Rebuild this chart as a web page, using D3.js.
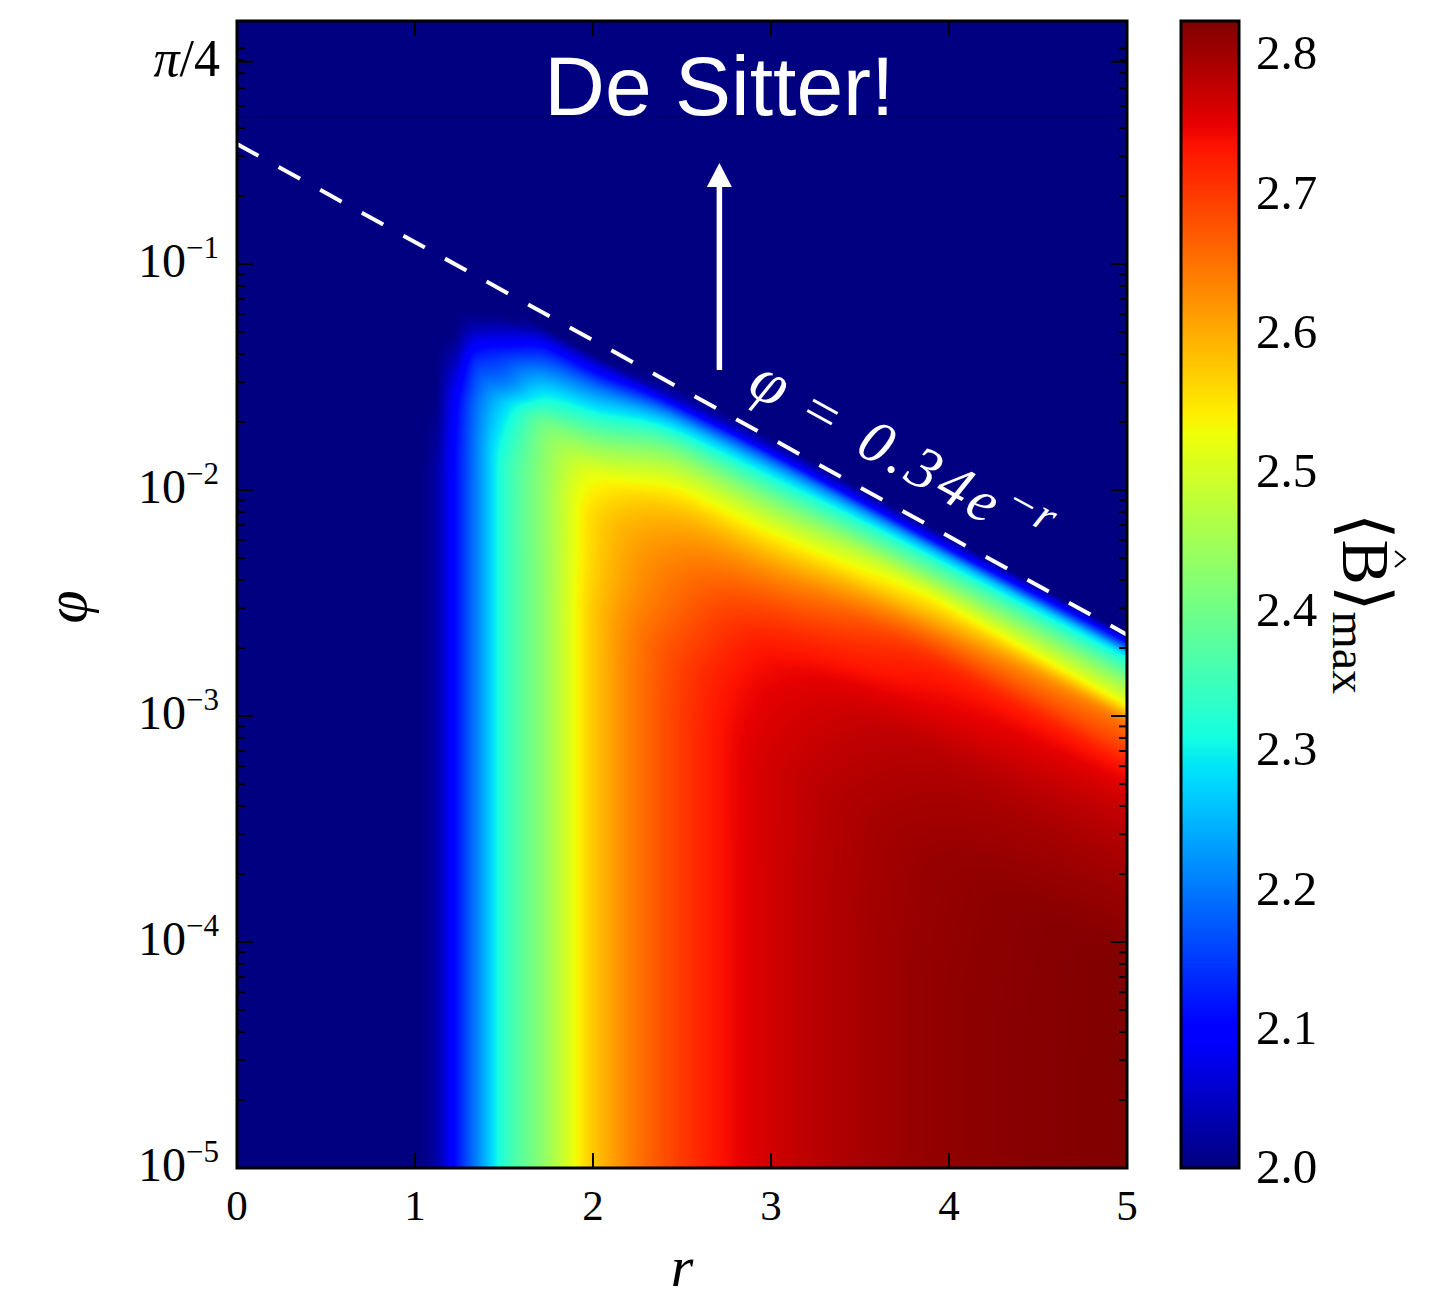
<!DOCTYPE html>
<html>
<head>
<meta charset="utf-8">
<script src="https://cdn.jsdelivr.net/npm/d3@7"></script>
<style>
  body { margin: 0; background: #fff; }
</style>
</head>
<body>
<script>

// r grid (columns) and depth below the line phi = 0.34 e^-r, in decades (rows)
var rKnots = [0, 1.0, 1.1, 1.2, 1.35, 1.5, 1.75, 2.0, 2.5, 3.0, 4.0, 5.0];
var depthKnots = [0, 0.05, 0.1, 0.15, 0.2, 0.3, 0.4, 0.5, 0.6, 0.8, 1.0, 1.25, 1.5, 2.0];

// <B>max, one row per depth
var bValues = [
  [2.0, 2.0, 2.0, 2.0,   2.0,  2.0,  2.0,   2.0,   2.0,   2.0,   2.0,   2.0],
  [2.0, 2.0, 2.0, 2.0,   2.0,  2.0,  2.0,   2.0,   2.04,  2.07,  2.1,   2.16],
  [2.0, 2.0, 2.0, 2.0,   2.0,  2.0,  2.05,  2.06,  2.14,  2.19,  2.25,  2.3],
  [2.0, 2.0, 2.0, 2.0,   2.0,  2.03, 2.11,  2.125, 2.24,  2.28,  2.34,  2.36],
  [2.0, 2.0, 2.0, 2.0,   2.02, 2.07, 2.16,  2.19,  2.31,  2.34,  2.40,  2.42],
  [2.0, 2.0, 2.0, 2.0,   2.09, 2.15, 2.25,  2.29,  2.42,  2.44,  2.52,  2.52],
  [2.0, 2.0, 2.0, 2.02,  2.15, 2.2,  2.33,  2.38,  2.50,  2.52,  2.60,  2.65],
  [2.0, 2.0, 2.0, 2.05,  2.18, 2.27, 2.41,  2.46,  2.56,  2.58,  2.67,  2.69],
  [2.0, 2.0, 2.0, 2.07,  2.2,  2.3,  2.435, 2.52,  2.6,   2.63,  2.72,  2.735],
  [2.0, 2.0, 2.01, 2.085, 2.21, 2.33, 2.445, 2.56,  2.645, 2.70,  2.755, 2.776],
  [2.0, 2.0, 2.02, 2.09,  2.21, 2.33, 2.445, 2.565, 2.67,  2.74,  2.785, 2.795],
  [2.0, 2.0, 2.02, 2.09,  2.21, 2.33, 2.445, 2.575, 2.695, 2.758, 2.80,  2.812],
  [2.0, 2.0, 2.02, 2.09,  2.21, 2.33, 2.445, 2.575, 2.70,  2.766, 2.809, 2.824],
  [2.0, 2.0, 2.02, 2.09,  2.21, 2.33, 2.445, 2.575, 2.70,  2.766, 2.812, 2.824]
];

var xTicks = [0, 1, 2, 3, 4, 5];
var yTicks = [1e-5, 1e-4, 1e-3, 1e-2, 1e-1];
var yTickExps = ["−5", "−4", "−3", "−2", "−1"];
var piTick = Math.PI / 4;
var cbTicks = [2.0, 2.1, 2.2, 2.3, 2.4, 2.5, 2.6, 2.7, 2.8];
var colorDomain = [2.0, 2.824];

var lineCoef = 0.34;          // phi = 0.34 e^{-r}
var lineR = [0, 5];
var gridTop = 0.45;           // faint seam of the data grid
var arrowR = 2.71, arrowFrom = 0.034, arrowTo = 0.28;
var labelR = 2.78;

// matplotlib jet, per channel
var jetRed   = [[0, 0], [0.35, 0], [0.66, 1], [0.89, 1], [1, 0.5]];
var jetGreen = [[0, 0], [0.125, 0], [0.375, 1], [0.64, 1], [0.91, 0], [1, 0]];
var jetBlue  = [[0, 0.5], [0.11, 1], [0.34, 1], [0.65, 0], [1, 0]];

var width = 1444, height = 1299;
var serif = "'Liberation Serif', 'Times New Roman', 'DejaVu Serif', serif";

var x = d3.scaleLinear().domain([0, 5]).range([237, 1127]);
var y = d3.scaleLog().domain([1e-5, 1.19]).range([1168, 21]);
var cb = d3.scaleLinear().domain(colorDomain).range([1168, 21]);

function channel(pts) {
  return d3.scaleLinear().domain(pts.map(function(p) { return p[0]; }))
    .range(pts.map(function(p) { return p[1]; })).clamp(true);
}
var cr = channel(jetRed), cg = channel(jetGreen), cbl = channel(jetBlue);
var lut = d3.range(1024).map(function(k) {
  var t = k / 1023;
  return [Math.round(cr(t) * 255), Math.round(cg(t) * 255), Math.round(cbl(t) * 255)];
});
function colorOf(v) {
  var t = (v - colorDomain[0]) / (colorDomain[1] - colorDomain[0]);
  t = Math.max(0, Math.min(1, t));
  return lut[Math.round(t * 1023)];
}

// monotone cubic (Fritsch-Butland slopes) so the contours come out smooth
function slopes(xs, ys) {
  var n = xs.length, m = new Array(n), h = [], dl = [];
  for (var k = 0; k < n - 1; k++) { h[k] = xs[k + 1] - xs[k]; dl[k] = (ys[k + 1] - ys[k]) / h[k]; }
  m[0] = dl[0]; m[n - 1] = dl[n - 2];
  for (k = 1; k < n - 1; k++) {
    if (dl[k - 1] * dl[k] <= 0) { m[k] = 0; continue; }
    var w1 = 2 * h[k] + h[k - 1], w2 = h[k] + 2 * h[k - 1];
    m[k] = (w1 + w2) / (w1 / dl[k - 1] + w2 / dl[k]);
  }
  return m;
}
function hermite(xs, ys, m, v) {
  var n = xs.length;
  if (v <= xs[0]) return ys[0];
  if (v >= xs[n - 1]) return ys[n - 1];
  var k = Math.min(d3.bisectRight(xs, v) - 1, n - 2);
  var h = xs[k + 1] - xs[k], t = (v - xs[k]) / h;
  var t2 = t * t, t3 = t2 * t;
  return (2 * t3 - 3 * t2 + 1) * ys[k] + (t3 - 2 * t2 + t) * h * m[k] +
         (-2 * t3 + 3 * t2) * ys[k + 1] + (t3 - t2) * h * m[k + 1];
}

function boundaryLog(r) { return Math.log10(lineCoef) - r * Math.LOG10E; }
function boundary(r) { return lineCoef * Math.exp(-r); }

var svg = d3.select("body").append("svg")
    .attr("width", width)
    .attr("height", height)
    .style("font-family", serif);

// heatmap raster
var x0 = x(0), y0 = y(1.19);
var W = Math.round(x(5) - x0), H = Math.round(y(1e-5) - y0);
var canvas = document.createElement("canvas");
canvas.width = W; canvas.height = H;
var ctx = canvas.getContext("2d");
var img = ctx.createImageData(W, H);

var rowSlopes = bValues.map(function(row) { return slopes(rKnots, row); });
var cols = d3.range(W).map(function(i) {
  var r = x.invert(x0 + i + 0.5);
  var vals = bValues.map(function(row, k) { return hermite(rKnots, row, rowSlopes[k], r); });
  return {vals: vals, m: slopes(depthKnots, vals), bl: boundaryLog(r)};
});

for (var j = 0; j < H; j++) {
  var lp = Math.log10(y.invert(y0 + j + 0.5));
  for (var i = 0; i < W; i++) {
    var c = cols[i];
    var d = c.bl - lp;
    var v = d < 0 ? colorDomain[0] : hermite(depthKnots, c.vals, c.m, d);
    var col = colorOf(v);
    var k = (j * W + i) * 4;
    img.data[k] = col[0]; img.data[k + 1] = col[1]; img.data[k + 2] = col[2]; img.data[k + 3] = 255;
  }
}
ctx.putImageData(img, 0, 0);

svg.append("image")
    .attr("x", x0).attr("y", y0)
    .attr("width", W).attr("height", H)
    .attr("preserveAspectRatio", "none")
    .attr("href", canvas.toDataURL());

// faint seam at top of data grid
svg.append("line")
    .attr("x1", x(0)).attr("x2", x(5))
    .attr("y1", y(gridTop)).attr("y2", y(gridTop))
    .attr("stroke", "#00006c")
    .attr("stroke-width", 1.5);

// dashed boundary line
var boundaryLine = d3.line()
    .x(function(r) { return x(r); })
    .y(function(r) { return y(boundary(r)); });

svg.append("path")
    .attr("d", boundaryLine(lineR))
    .attr("fill", "none")
    .attr("stroke", "#fff")
    .attr("stroke-width", 4)
    .attr("stroke-dasharray", "24.5,23");

// line label, rotated along the line
var angle = Math.atan2(y(boundary(5)) - y(boundary(0)), x(5) - x(0)) * 180 / Math.PI;
var lab = svg.append("g")
    .attr("transform", "translate(" + x(labelR) + "," + y(boundary(labelR)) + ") rotate(" + angle + ")")
    .append("text")
    .attr("fill", "#fff")
    .style("font-family", serif)
    .style("font-size", "60px")
    .style("font-style", "italic");
lab.append("tspan").attr("x", 0).attr("y", -28).style("font-size", "64px").text("φ");
lab.append("tspan").attr("x", 60).attr("y", -28).style("font-style", "normal").text("=");
lab.append("tspan").attr("x", 124).attr("y", -28).attr("letter-spacing", "5px").text("0.34");
lab.append("tspan").attr("x", 248).attr("y", -28).text("e");
lab.append("tspan").attr("x", 284).attr("y", -50).style("font-size", "46px").style("font-style", "normal").text("−");
lab.append("tspan").attr("x", 314).attr("y", -50).style("font-size", "46px").text("r");

// arrow towards de Sitter
var ax = x(arrowR), ay1 = y(arrowFrom), ay2 = y(arrowTo);
svg.append("line")
    .attr("x1", ax).attr("x2", ax)
    .attr("y1", ay1).attr("y2", ay2 + 22)
    .attr("stroke", "#fff")
    .attr("stroke-width", 5.5);
svg.append("path")
    .attr("d", "M" + ax + "," + ay2 + "L" + (ax + 12.5) + "," + (ay2 + 24) + "L" + (ax - 12.5) + "," + (ay2 + 24) + "Z")
    .attr("fill", "#fff");

svg.append("text")
    .attr("x", x(arrowR))
    .attr("y", 115)
    .attr("text-anchor", "middle")
    .attr("fill", "#fff")
    .style("font-family", "'Liberation Sans', Arial, sans-serif")
    .style("font-size", "84px")
    .text("De Sitter!");

// frame
svg.append("rect")
    .attr("x", x(0)).attr("y", y(1.19))
    .attr("width", x(5) - x(0)).attr("height", y(1e-5) - y(1.19))
    .attr("fill", "none")
    .attr("stroke", "#000")
    .attr("stroke-width", 3);

// x ticks (inward, top and bottom)
var ticks = svg.append("g").attr("stroke", "#000").attr("stroke-width", 2);
xTicks.forEach(function(t) {
  ticks.append("line").attr("x1", x(t)).attr("x2", x(t)).attr("y1", y(1e-5)).attr("y2", y(1e-5) - 15);
  ticks.append("line").attr("x1", x(t)).attr("x2", x(t)).attr("y1", y(1.19)).attr("y2", y(1.19) + 15);
});
svg.selectAll(".xlab")
    .data(xTicks)
    .enter().append("text")
    .attr("class", "xlab")
    .attr("x", function(d) { return x(d); })
    .attr("y", 1220)
    .attr("text-anchor", "middle")
    .style("font-family", serif)
    .style("font-size", "43px")
    .text(function(d) { return d; });

// y ticks, major and minor
var majors = yTicks.concat([piTick]);
majors.forEach(function(t) {
  ticks.append("line").attr("x1", x(0)).attr("x2", x(0) + 16).attr("y1", y(t)).attr("y2", y(t));
  ticks.append("line").attr("x1", x(5)).attr("x2", x(5) - 16).attr("y1", y(t)).attr("y2", y(t));
});
var minors = [];
d3.range(-5, 1).forEach(function(e) {
  d3.range(2, 10).forEach(function(m) {
    var v = m * Math.pow(10, e);
    if (v < 1.19) minors.push(v);
  });
});
minors.forEach(function(t) {
  ticks.append("line").attr("x1", x(0)).attr("x2", x(0) + 8).attr("y1", y(t)).attr("y2", y(t));
  ticks.append("line").attr("x1", x(5)).attr("x2", x(5) - 8).attr("y1", y(t)).attr("y2", y(t));
});

yTicks.forEach(function(t, k) {
  var tx = svg.append("text")
      .attr("x", 219)
      .attr("y", y(t) + 13)
      .attr("text-anchor", "end")
      .style("font-family", serif);
  tx.append("tspan").style("font-size", "48px").text("10");
  tx.append("tspan").attr("dy", -19).style("font-size", "31px").text(yTickExps[k]);
});
var pl = svg.append("text")
    .attr("x", 220)
    .attr("y", y(piTick) + 14)
    .attr("text-anchor", "end")
    .style("font-family", serif)
    .style("font-size", "52px");
pl.append("tspan").style("font-style", "italic").text("π");
pl.append("tspan").text("/4");

// axis labels
svg.append("text")
    .attr("x", 682)
    .attr("y", 1286)
    .attr("text-anchor", "middle")
    .style("font-family", serif)
    .style("font-size", "58px")
    .style("font-style", "italic")
    .text("r");

svg.append("text")
    .attr("transform", "translate(86,607) rotate(-90)")
    .attr("text-anchor", "middle")
    .style("font-family", serif)
    .style("font-size", "60px")
    .style("font-style", "italic")
    .text("φ");

// colorbar
var cbx = 1181, cbw = 58;
var cbCanvas = document.createElement("canvas");
var cbH = Math.round(cb(colorDomain[0]) - cb(colorDomain[1]));
cbCanvas.width = 1; cbCanvas.height = cbH;
var cbCtx = cbCanvas.getContext("2d");
var cbImg = cbCtx.createImageData(1, cbH);
for (var q = 0; q < cbH; q++) {
  var cc = colorOf(cb.invert(cb(colorDomain[1]) + q + 0.5));
  cbImg.data[q * 4] = cc[0]; cbImg.data[q * 4 + 1] = cc[1]; cbImg.data[q * 4 + 2] = cc[2]; cbImg.data[q * 4 + 3] = 255;
}
cbCtx.putImageData(cbImg, 0, 0);
svg.append("image")
    .attr("x", cbx).attr("y", cb(colorDomain[1]))
    .attr("width", cbw).attr("height", cbH)
    .attr("preserveAspectRatio", "none")
    .attr("href", cbCanvas.toDataURL());
svg.append("rect")
    .attr("x", cbx).attr("y", cb(colorDomain[1]))
    .attr("width", cbw).attr("height", cbH)
    .attr("fill", "none")
    .attr("stroke", "#000")
    .attr("stroke-width", 3);

cbTicks.forEach(function(t) {
  ticks.append("line").attr("x1", cbx + cbw).attr("x2", cbx + cbw - 14).attr("y1", cb(t)).attr("y2", cb(t));
});
svg.selectAll(".cblab")
    .data(cbTicks)
    .enter().append("text")
    .attr("class", "cblab")
    .attr("x", 1256)
    .attr("y", function(d) { return cb(d) + 15; })
    .style("font-family", serif)
    .style("font-size", "49px")
    .text(function(d) { return d.toFixed(1); });

// colorbar label <B^>max, rotated clockwise
var cl = svg.append("g").attr("transform", "translate(1343,513) rotate(90)");
var clt = cl.append("text").style("font-family", serif).style("font-size", "68px");
clt.append("tspan").text("⟨");
clt.append("tspan").text("B");
clt.append("tspan").text("⟩");
clt.append("tspan").attr("dy", 10).style("font-size", "48px").text("max");
cl.append("path")
    .attr("d", "M38,-52L46,-62L54,-52")
    .attr("fill", "none")
    .attr("stroke", "#000")
    .attr("stroke-width", 2);

</script>
</body>
</html>
